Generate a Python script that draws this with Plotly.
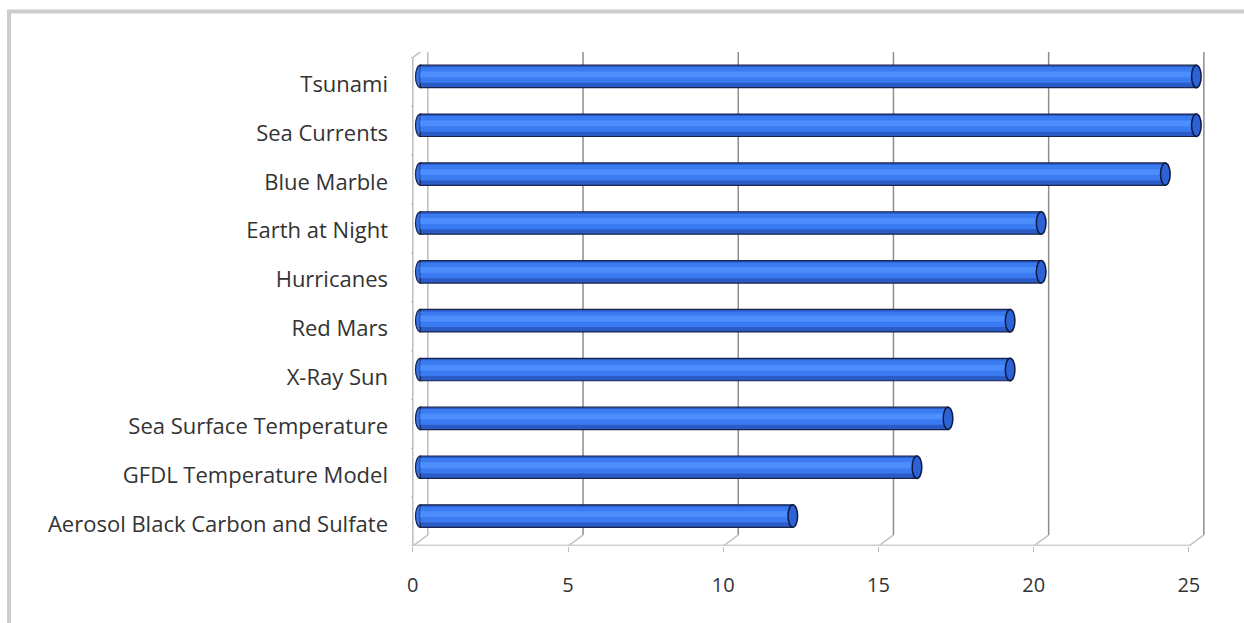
import plotly.graph_objects as go

categories = ["Aerosol Black Carbon and Sulfate", "GFDL Temperature Model",
              "Sea Surface Temperature", "X-Ray Sun", "Red Mars", "Hurricanes",
              "Earth at Night", "Blue Marble", "Sea Currents", "Tsunami"]
values = [12, 16, 17, 19, 19, 20, 20, 24, 25, 25]
x_ticks = [0, 5, 10, 15, 20, 25]

W, H = 1244, 623
ML, MR, MT, MB = 411, 29, 51.5, 77
XR = [-0.3, 25.6]
YR = [-0.6125, 9.5]
ppu_x = (W - ML - MR) / (XR[1] - XR[0])
ppu_y = (H - MT - MB) / (YR[1] - YR[0])
dx = 7.5 / ppu_x   # half depth in x units
dy = 5.5 / ppu_y   # half depth in y units

idx = list(range(len(categories)))
FONT = "Open Sans"

fig = go.Figure()
# cylinder layers
fig.add_trace(go.Bar(y=idx, x=values, orientation="h", width=0.46,
                     marker=dict(color="#2a5bc6", line=dict(color="#18244d", width=1.2)),
                     xaxis="x", yaxis="y", hoverinfo="x+y"))
fig.add_trace(go.Bar(y=idx, x=values, orientation="h", width=0.32, offset=-0.13,
                     marker=dict(color="#3b7bf2", line=dict(width=0)),
                     xaxis="x", yaxis="y", hoverinfo="skip"))
fig.add_trace(go.Bar(y=idx, x=values, orientation="h", width=0.12, offset=-0.02,
                     marker=dict(color="#4d8eff", line=dict(width=0)),
                     xaxis="x", yaxis="y", hoverinfo="skip"))
# invisible trace on front axis for ticks
fig.add_trace(go.Scatter(x=[0, 25], y=[0, 0], mode="markers", marker=dict(opacity=0),
                         xaxis="x2", yaxis="y", hoverinfo="skip", showlegend=False))

shapes = []
grid_col = "#8e8e8e"
light = "#bdbdbd"
y_bot = -0.5
y_top = len(categories) - 0.5
for t in x_ticks:
    shapes.append(dict(type="line", xref="x", yref="y", x0=t + dx, x1=t + dx,
                       y0=y_bot + dy, y1=y_top + dy, layer="below",
                       line=dict(color=grid_col if t > 0 else light, width=1.5)))
    shapes.append(dict(type="line", xref="x", yref="y", x0=t - dx, x1=t + dx,
                       y0=y_bot - dy, y1=y_bot + dy, layer="below",
                       line=dict(color=light, width=1.5)))
# front axis line
shapes.append(dict(type="line", xref="x", yref="y", x0=-dx, x1=x_ticks[-1] - dx,
                   y0=y_bot - dy, y1=y_bot - dy, layer="below",
                   line=dict(color="#cfcfcf", width=3)))
# left front wall line
shapes.append(dict(type="line", xref="x", yref="y", x0=-dx, x1=-dx,
                   y0=y_bot - dy, y1=y_top - dy, layer="below",
                   line=dict(color=light, width=1.5)))
shapes.append(dict(type="line", xref="x", yref="y", x0=-dx, x1=dx,
                   y0=y_top - dy, y1=y_top + dy, layer="below",
                   line=dict(color=light, width=1.5)))
# left wall ticks
tick_len = 8 / ppu_x
for k in range(len(categories) + 1):
    yy = k - 0.5 - dy
    shapes.append(dict(type="line", xref="x", yref="y", x0=-dx - tick_len, x1=-dx,
                       y0=yy, y1=yy, layer="below", line=dict(color=light, width=1.2)))
# cylinder caps
cap_w = 4.8 / ppu_x
for i, v in zip(idx, values):
    shapes.append(dict(type="circle", xref="x", yref="y", x0=-cap_w, x1=cap_w,
                       y0=i - 0.23, y1=i + 0.23, layer="below",
                       fillcolor="#3570e6", line=dict(color="#18244d", width=1.2)))
    shapes.append(dict(type="circle", xref="x", yref="y", x0=v - cap_w, x1=v + cap_w,
                       y0=i - 0.23, y1=i + 0.23, layer="above",
                       fillcolor="#2d62d4", line=dict(color="#0e1a40", width=1.5)))
# outer frame (top and left edges visible)
shapes.append(dict(type="rect", xref="paper", yref="paper",
                   x0=(9 - ML) / (W - ML - MR), x1=(W + 40 - ML) / (W - ML - MR),
                   y0=(H - MB - (H + 40)) / (H - MT - MB), y1=(H - MB - 11) / (H - MT - MB),
                   layer="below", line=dict(color="#cccccc", width=4)))

fig.update_layout(
    width=W, height=H,
    margin=dict(l=ML, r=MR, t=MT, b=MB),
    paper_bgcolor="white", plot_bgcolor="white",
    barmode="overlay", showlegend=False,
    shapes=shapes,
    xaxis=dict(range=XR, showgrid=False, zeroline=False, showticklabels=False,
               ticks="", showline=False, fixedrange=True),
    xaxis2=dict(range=[XR[0] + dx, XR[1] + dx], overlaying="x", side="bottom",
                anchor="y", tickvals=x_ticks, ticktext=[str(t) for t in x_ticks],
                showgrid=False, zeroline=False, showline=False,
                ticks="outside", ticklen=5, tickwidth=1.2, tickcolor=light,
                ticklabelstandoff=16,
                tickfont=dict(family=FONT, size=20, color="#333333")),
    yaxis=dict(range=YR, tickvals=[i - 0.16 for i in idx], ticktext=categories,
               showgrid=False, zeroline=False, showline=False, ticks="",
               ticklabelstandoff=22,
               tickfont=dict(family=FONT, size=22, color="#333333")),
)

fig.write_html("out.html")
